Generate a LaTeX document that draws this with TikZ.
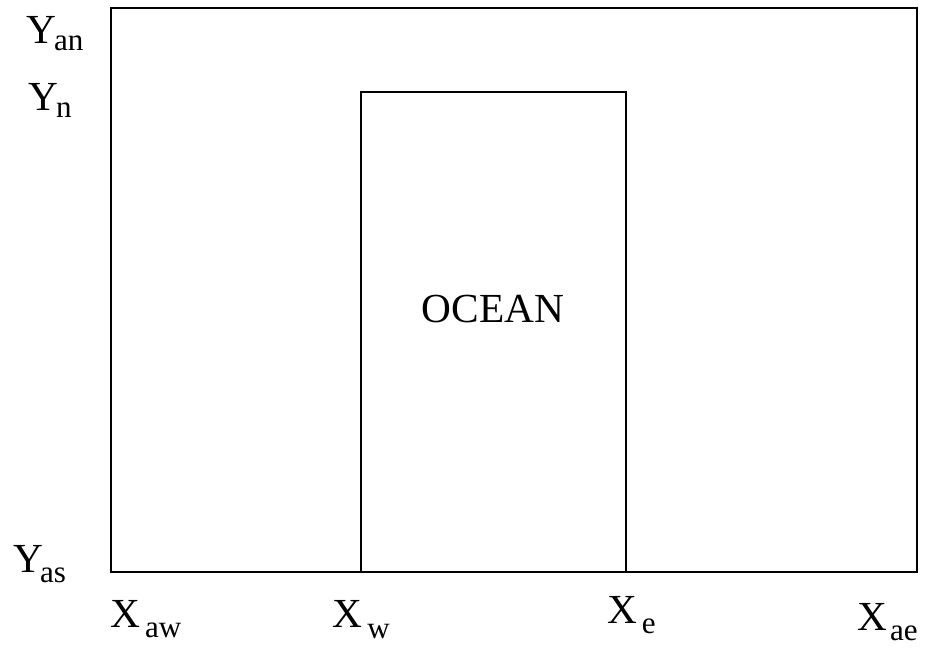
\documentclass[tikz,border=0pt]{standalone}
\usepackage{fontspec}
\setmainfont{Liberation Serif}
\usetikzlibrary{positioning}

\newcommand{\bigsz}{\fontsize{31}{31}\selectfont}
\newcommand{\subsz}{\fontsize{23.3}{23.3}\selectfont}
% axis label: letter, gap, lowered index
\newcommand{\axlab}[4][5.25pt]{{\bigsz #2}\kern#3{\subsz\raisebox{-#1}{#4}}}

\begin{document}
\begin{tikzpicture}[x=0.75pt,y=-0.75pt,
    box/.style={line width=1.6pt},
    lab/.style={inner sep=0pt,anchor=base west}]
    \useasboundingbox (0,0) rectangle (930,650);

    % Outer domain
    \coordinate (aNW) at (111,8);
    \coordinate (aSE) at (917,572);
    \draw[box] (aNW) rectangle (aSE);

    % Ocean basin
    \coordinate (oNW) at (361,92);
    \coordinate (oSE) at (626,572);
    \draw[box] (oNW) rectangle (oSE);
    \node[inner sep=0pt,anchor=base] (ocean) at (493,322) {\bigsz OCEAN};

    % Latitudes
    \node[lab] (yan) at (26,43)  {\axlab{Y}{-1.5pt}{an}};
    \node[lab] (yn)  at (28,110) {\axlab{Y}{-1.5pt}{n}};
    \node[lab] (yas) at (13,572) {\axlab[7.5pt]{Y}{-2.25pt}{as}};

    % Longitudes
    \node[lab] (xaw) at (110,627) {\axlab[7.5pt]{X}{3.75pt}{aw}};
    \node[lab] (xw)  at (332,627) {\axlab[8.5pt]{X}{4pt}{w}};
    \node[lab] (xe)  at (607,623) {\axlab[7.5pt]{X}{3.5pt}{e}};
    \node[lab] (xae) at (857,630) {\axlab[7.5pt]{X}{2.25pt}{ae}};
\end{tikzpicture}
\end{document}
